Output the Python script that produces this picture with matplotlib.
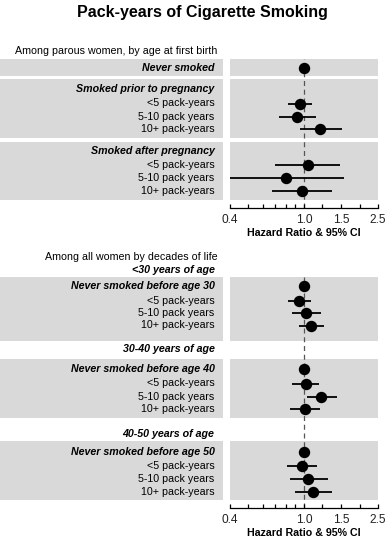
import numpy as np
import matplotlib
matplotlib.use("Agg")
import matplotlib.pyplot as plt
from matplotlib.patches import Rectangle

plt.rcParams['font.family'] = ['Liberation Sans', 'DejaVu Sans']

nan = np.nan

# ---------------- data ----------------
title = "Pack-years of Cigarette Smoking"
xlabel = "Hazard Ratio & 95% CI"

top_section = "Among parous women, by age at first birth"
top_labels = ["Never smoked", "Smoked prior to pregnancy", "<5 pack-years",
              "5-10 pack years", "10+ pack-years", "Smoked after pregnancy",
              "<5 pack-years", "5-10 pack years", "10+ pack-years"]
top_header = [True, True, False, False, False, True, False, False, False]
top_hr = [1.0, nan, 0.95, 0.92, 1.22, nan, 1.05, 0.80, 0.97]
top_lo = [nan, nan, 0.82, 0.73, 0.95, nan, 0.70, 0.38, 0.67]
top_hi = [nan, nan, 1.10, 1.165, 1.61, nan, 1.56, 1.65, 1.42]

bot_section = "Among all women by decades of life"
bot_groups = ["<30 years of age", "30-40 years of age", "40-50 years of age"]
bot_labels = ["Never smoked before age 30", "<5 pack-years", "5-10 pack years", "10+ pack-years",
              "Never smoked before age 40", "<5 pack-years", "5-10 pack years", "10+ pack-years",
              "Never smoked before age 50", "<5 pack-years", "5-10 pack years", "10+ pack-years"]
bot_header = [True, False, False, False] * 3
bot_hr = [1.0, 0.94, 1.03, 1.09, 1.0, 1.02, 1.24, 1.01, 1.0, 0.97, 1.05, 1.12]
bot_lo = [nan, 0.82, 0.865, 0.94, nan, 0.865, 1.04, 0.84, nan, 0.81, 0.84, 0.895]
bot_hi = [nan, 1.09, 1.23, 1.28, nan, 1.20, 1.51, 1.22, nan, 1.18, 1.35, 1.41]

tick_values = [0.4, 0.5, 0.6, 0.7, 0.8, 0.9, 1.0, 1.257, 1.58, 1.99, 2.5]
tick_labels = ["0.4", "", "", "", "", "", "1.0", "", "1.5", "", "2.5"]

# ---------------- layout (pixel units) ----------------
W, H = 388, 540
GRAY = '#d9d9d9'
FS = 7.7
LEFT_X1 = 222.5
RX0, RX1 = 230, 378
LABEL_X = 214.5

top_rows = [68, 89.5, 103.5, 116.5, 128.5, 151.5, 165, 178, 191]
top_panels = [(59, 76), (78.5, 137.5), (142, 199.5)]
top_axis = 208

bot_rows = [286, 300.5, 313, 325.5, 368.5, 383.5, 396.8, 409.2, 451.7, 466, 479.3, 491.7]
bot_panels = [(276.7, 340.7), (358.7, 418.3), (441, 500)]
bot_group_y = [270, 349.3, 434]
bot_axis = 508

fig = plt.figure(figsize=(W / 100, H / 100), dpi=100)
bg = fig.add_axes([0, 0, 1, 1])
bg.set_xlim(0, W)
bg.set_ylim(H, 0)
bg.axis('off')

bg.text(W / 2 + 8, 12.5, title, ha='center', va='center', fontsize=11.5, fontweight='bold')


def forest(rows, panels, axis_y, labels, header, hr, lo, hi):
    top = panels[0][0]
    for (y0, y1) in panels:
        bg.add_patch(Rectangle((0, y0), LEFT_X1, y1 - y0, color=GRAY, lw=0, zorder=0))
    for y, lab, hd in zip(rows, labels, header):
        bg.text(LABEL_X, y, lab, ha='right', va='center', fontsize=FS,
                fontweight='bold' if hd else 'normal',
                fontstyle='italic' if hd else 'normal')
    ax = fig.add_axes([RX0 / W, 1 - axis_y / H, (RX1 - RX0) / W, (axis_y - top) / H])
    ax.set_facecolor('none')
    ax.set_xscale('log')
    ax.set_xlim(0.4, 2.5)
    ax.set_ylim(axis_y, top)
    for (y0, y1) in panels:
        ax.axhspan(y0, y1, color=GRAY, lw=0, zorder=0)
    ax.axvline(1.0, color='#555555', lw=0.9, ls=(0, (4, 3)), zorder=1)
    hr = np.array(hr, float)
    lo = np.array(lo, float)
    hi = np.array(hi, float)
    yr = np.array(rows, float)
    m = ~np.isnan(lo)
    ax.hlines(yr[m], lo[m], hi[m], color='black', lw=1.3, zorder=2)
    mp = ~np.isnan(hr)
    ax.plot(hr[mp], yr[mp], 'o', color='black', ms=7.2, zorder=3)
    for s in ['top', 'left', 'right']:
        ax.spines[s].set_visible(False)
    ax.spines['bottom'].set_linewidth(0.9)
    ax.set_yticks([])
    ax.xaxis.set_minor_locator(matplotlib.ticker.NullLocator())
    ax.set_xticks(tick_values)
    ax.set_xticklabels(tick_labels)
    ax.tick_params(axis='x', direction='in', length=3.2, width=0.9, labelsize=8.6,
                   labelcolor='#222222', pad=4)
    ax.set_xlabel(xlabel, fontsize=FS, fontweight='bold', labelpad=2)
    return ax


bg.text(217.5, 51, top_section, ha='right', va='center', fontsize=FS)
forest(top_rows, top_panels, top_axis, top_labels, top_header, top_hr, top_lo, top_hi)

bg.text(217.5, 257.3, bot_section, ha='right', va='center', fontsize=FS)
for y, g in zip(bot_group_y, bot_groups):
    bg.text(LABEL_X, y, g, ha='right', va='center', fontsize=FS, fontweight='bold', fontstyle='italic')
forest(bot_rows, bot_panels, bot_axis, bot_labels, bot_header, bot_hr, bot_lo, bot_hi)

fig.savefig('out.png', dpi=100)
